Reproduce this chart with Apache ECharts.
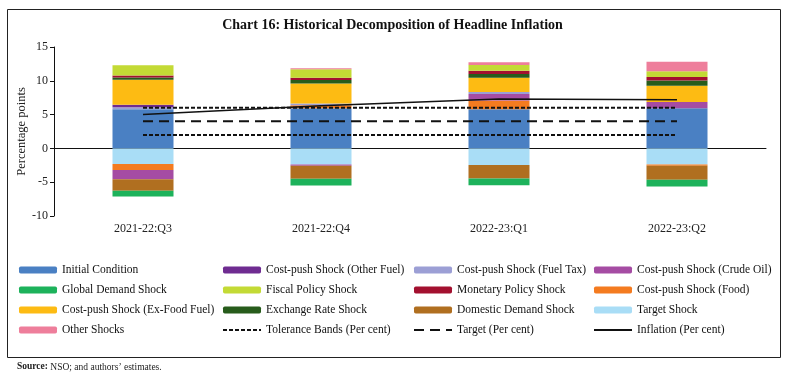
<!DOCTYPE html>
<html>
<head>
<meta charset="utf-8">
<script src="https://cdn.jsdelivr.net/npm/echarts@6/dist/echarts.min.js"></script>
<style>html,body{margin:0;padding:0;background:#fff}#c{width:785px;height:388px}</style>
</head>
<body>
<div id="c"></div>
<script>
const categories = ['2021-22:Q3', '2021-22:Q4', '2022-23:Q1', '2022-23:Q2'];
const initialCondition   = [5.8, 5.95, 5.8, 5.95];
const targetShock        = [-2.3, -2.4, -2.45, -2.4];
const costPushFood       = [-0.9, 0.45, 1.3, -0.15];
const costPushCrudeOil   = [-1.35, -0.15, 0.95, 0.9];
const costPushFuelTax    = [0.3, 0.25, 0.3, 0];
const costPushOtherFuel  = [0.35, 0, 0, 0];
const domesticDemand     = [-1.7, -1.95, -2.0, -2.1];
const globalDemand       = [-0.85, -1.0, -1.0, -1.0];
const costPushExFoodFuel = [3.7, 2.95, 2.1, 2.4];
const exchangeRate       = [0.35, 0.5, 0.55, 0.8];
const monetaryPolicy     = [0.3, 0.35, 0.5, 0.5];
const fiscalPolicy       = [1.5, 1.25, 0.85, 0.85];
const otherShocks        = [0, 0.15, 0.4, 1.4];
const toleranceUpper     = [6, 6, 6, 6];
const toleranceLower     = [2, 2, 2, 2];
const target             = [4, 4, 4, 4];
const inflation          = [5.0, 6.3, 7.3, 7.2];
const yTicks = { min: -10, max: 15, interval: 5 };

const FONT = 'Liberation Serif';
const barDefs = [
  ['Initial Condition', initialCondition, '#4A80C3'],
  ['Target Shock', targetShock, '#A9DDF6'],
  ['Cost-push Shock (Food)', costPushFood, '#F47B20'],
  ['Cost-push Shock (Crude Oil)', costPushCrudeOil, '#A54CA3'],
  ['Cost-push Shock (Fuel Tax)', costPushFuelTax, '#9C9FD5'],
  ['Cost-push Shock (Other Fuel)', costPushOtherFuel, '#6F2C91'],
  ['Domestic Demand Shock', domesticDemand, '#B06F20'],
  ['Global Demand Shock', globalDemand, '#1DB25B'],
  ['Cost-push Shock (Ex-Food Fuel)', costPushExFoodFuel, '#FDBB13'],
  ['Exchange Rate Shock', exchangeRate, '#275C1B'],
  ['Monetary Policy Shock', monetaryPolicy, '#A3102F'],
  ['Fiscal Policy Shock', fiscalPolicy, '#C3DA35'],
  ['Other Shocks', otherShocks, '#EE7E9B']
];
const series = barDefs.map(([name, data, color]) => ({
  name, type: 'bar', stack: 'total', data, barWidth: 61,
  itemStyle: { color }, xAxisIndex: 0, z: 2
}));
const lineBase = { type: 'line', symbol: 'none', xAxisIndex: 0, z: 5, silent: true,
  itemStyle: { color: 'rgba(0,0,0,0)', borderWidth: 0 } };
series.push(Object.assign({}, lineBase, { name: 'Tolerance Bands (Per cent)', data: toleranceUpper, lineStyle: { color: '#111', width: 2, type: [4, 2] } }));
series.push(Object.assign({}, lineBase, { name: 'Tolerance Bands (Per cent)', data: toleranceLower, lineStyle: { color: '#111', width: 2, type: [4, 2] } }));
series.push(Object.assign({}, lineBase, { name: 'Target (Per cent)', data: target, lineStyle: { color: '#111', width: 2, type: [10, 6] } }));
series.push(Object.assign({}, lineBase, { name: 'Inflation (Per cent)', data: inflation, lineStyle: { color: '#111', width: 1.5, type: 'solid' } }));

const legendText = { fontFamily: FONT, fontSize: 11.5, color: '#111' };
const legendCols = [
  ['Initial Condition', 'Global Demand Shock', 'Cost-push Shock (Ex-Food Fuel)', 'Other Shocks'],
  ['Cost-push Shock (Other Fuel)', 'Fiscal Policy Shock', 'Exchange Rate Shock', 'Tolerance Bands (Per cent)'],
  ['Cost-push Shock (Fuel Tax)', 'Monetary Policy Shock', 'Domestic Demand Shock', 'Target (Per cent)'],
  ['Cost-push Shock (Crude Oil)', 'Cost-push Shock (Food)', 'Target Shock', 'Inflation (Per cent)']
];
const legendLeft = [19, 222, 413, 593];
const legends = legendCols.map((d, i) => ({
  data: d, orient: 'vertical', left: legendLeft[i], top: 264,
  itemWidth: 38, itemHeight: 7, itemGap: 8, padding: 0,
  textStyle: legendText, selectedMode: false
}));

const chart = echarts.init(document.getElementById('c'));
chart.setOption({
  animation: false,
  title: {
    text: 'Chart 16: Historical Decomposition of Headline Inflation',
    left: 'center', top: 13,
    textStyle: { fontFamily: FONT, fontSize: 14, fontWeight: 'bold', color: '#111' }
  },
  legend: legends,
  grid: { left: 54, right: 19, top: 47, bottom: 172 },
  xAxis: [
    {
      type: 'category', data: categories, position: 'bottom',
      axisLine: { show: false, onZero: false }, axisTick: { show: false },
      axisLabel: { fontFamily: FONT, fontSize: 12, color: '#222', margin: 7 }
    },
    {
      type: 'category', data: categories, position: 'bottom',
      axisLine: { show: true, onZero: true, lineStyle: { color: '#111', width: 1 } },
      axisTick: { show: false }, axisLabel: { show: false }
    }
  ],
  yAxis: {
    type: 'value', min: yTicks.min, max: yTicks.max, interval: yTicks.interval,
    name: 'Percentage points', nameLocation: 'middle', nameGap: 26, nameMoveOverlap: false,
    nameTextStyle: { fontFamily: FONT, fontSize: 12.5, color: '#222' },
    axisLine: { show: true, lineStyle: { color: '#111', width: 1 } },
    axisTick: { show: true, length: 4, lineStyle: { color: '#111' } },
    axisLabel: { fontFamily: FONT, fontSize: 12, color: '#222', margin: 6 },
    splitLine: { show: false }
  },
  series,
  graphic: [
    { type: 'rect', left: 5, top: 7, shape: { width: 773, height: 348 }, style: { fill: 'none', stroke: '#222', lineWidth: 1 }, silent: true },
    { type: 'text', left: 17, top: 362, style: { text: '{b|Source:} NSO; and authors\u2019 estimates.', rich: { b: { fontWeight: 'bold', fontFamily: FONT, fontSize: 9.5 } }, fontFamily: FONT, fontSize: 9.5, fill: '#222' } }
  ]
});
</script>
</body>
</html>
